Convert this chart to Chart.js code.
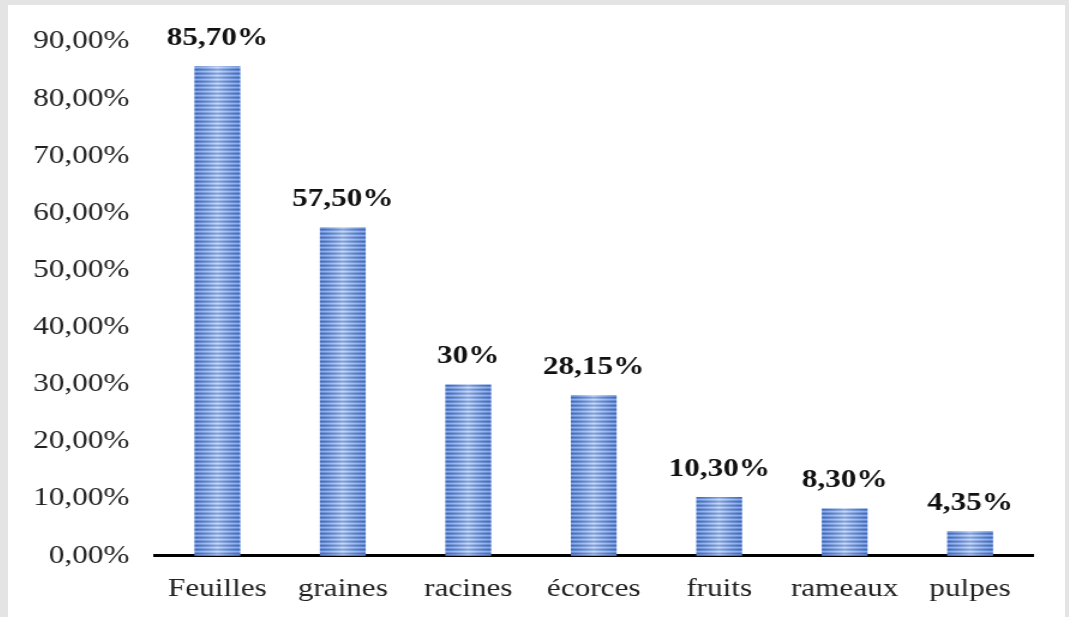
<!DOCTYPE html>
<html>
<head>
<meta charset="utf-8">
<script src="https://cdn.jsdelivr.net/npm/chart.js@4.4.1/dist/chart.umd.min.js"></script>
<style>
  html, body { margin: 0; padding: 0; background: #e4e4e4; overflow: hidden; }
  #panel { position: absolute; left: 8px; top: 5px; width: 1057px; height: 612px; background: #fff; overflow: hidden; }
  /* figure légèrement étirée en largeur */
  #chart { display: block; transform: scaleX(1.2); transform-origin: 0 0; }
</style>
</head>
<body>
<div id="panel"><canvas id="chart" width="881" height="618"></canvas></div>
<script>
// Parties de la plante utilisées
const categories = ["Feuilles", "graines", "racines", "écorces", "fruits", "rameaux", "pulpes"];
const percentages = [85.70, 57.50, 30, 28.15, 10.30, 8.30, 4.35];
const valueLabels = ["85,70%", "57,50%", "30%", "28,15%", "10,30%", "8,30%", "4,35%"];

const serif = "'Liberation Serif', 'Times New Roman', serif";

// Motif rayé horizontal pour les barres
function stripePattern(ctx) {
    const c = document.createElement("canvas");
    c.width = 4; c.height = 4;
    const p = c.getContext("2d");
    const rows = ["#4570c6", "#6b92d9", "#aec4ee", "#7ea1e0"];
    rows.forEach((col, i) => { p.fillStyle = col; p.fillRect(0, i, 4, 1); });
    return ctx.createPattern(c, "repeat");
}

// Reflet clair au centre de chaque barre
const barShine = {
    id: "barShine",
    afterDatasetsDraw(chart) {
        const ctx = chart.ctx;
        chart.getDatasetMeta(0).data.forEach(bar => {
            const left = bar.x - bar.width / 2;
            const g = ctx.createLinearGradient(left, 0, left + bar.width, 0);
            g.addColorStop(0, "rgba(40,80,170,0.25)");
            g.addColorStop(0.5, "rgba(255,255,255,0.35)");
            g.addColorStop(1, "rgba(40,80,170,0.25)");
            ctx.save();
            ctx.fillStyle = g;
            ctx.fillRect(left, bar.y, bar.width, bar.base - bar.y);
            ctx.restore();
        });
    }
};

// Étiquettes de valeur au-dessus des barres
const valueText = {
    id: "valueText",
    afterDatasetsDraw(chart) {
        const ctx = chart.ctx;
        ctx.save();
        ctx.font = "bold 26px " + serif;
        ctx.fillStyle = "#111";
        ctx.textAlign = "center";
        ctx.textBaseline = "middle";
        chart.getDatasetMeta(0).data.forEach((bar, i) => {
            ctx.fillText(valueLabels[i], bar.x, bar.y - 28);
        });
        ctx.restore();
    }
};

const ctx = document.getElementById("chart").getContext("2d");
new Chart(ctx, {
    type: "bar",
    data: {
        labels: categories,
        datasets: [{
            data: percentages,
            backgroundColor: stripePattern(ctx),
            borderWidth: 0,
            barPercentage: 0.365,
            categoryPercentage: 1
        }]
    },
    options: {
        responsive: false,
        animation: false,
        layout: { padding: { left: 0, right: 27, top: 14, bottom: 0 } },
        plugins: { legend: { display: false }, tooltip: { enabled: false } },
        scales: {
            x: {
                grid: { display: false, drawTicks: false },
                border: { display: true, color: "#000", width: 3 },
                ticks: {
                    padding: 18,
                    color: "#222",
                    font: { family: serif, size: 26 }
                }
            },
            y: {
                min: 0,
                max: 90,
                grid: { display: false, drawTicks: false },
                border: { display: false },
                ticks: {
                    stepSize: 10,
                    padding: 21,
                    color: "#222",
                    font: { family: serif, size: 26 },
                    callback: v => v.toFixed(2).replace(".", ",") + "%"
                }
            }
        }
    },
    plugins: [barShine, valueText]
});
</script>
</body>
</html>
